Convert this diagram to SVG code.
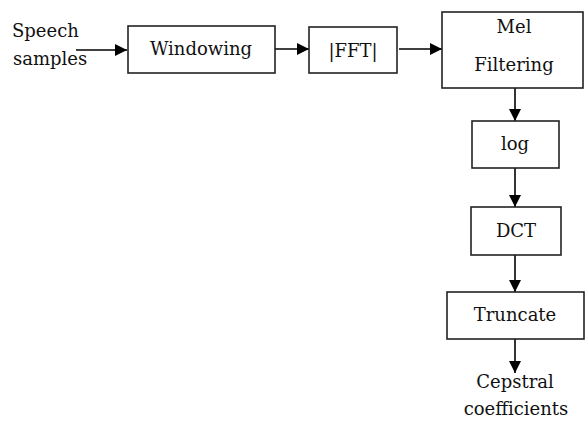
<svg xmlns="http://www.w3.org/2000/svg" width="585" height="421" viewBox="0 0 585 421">
<style>
.box{fill:#fff;stroke:#222;stroke-width:1.6}
.t{fill:#111}
.c{text-anchor:middle}
.ln{stroke:#000;stroke-width:1.6;fill:none}
</style>
<defs>
<marker id="ah" viewBox="0 0 12 12" refX="12" refY="6" markerWidth="12" markerHeight="12" markerUnits="userSpaceOnUse" orient="auto">
<path d="M0,0 L12,6 L0,12 Z" fill="#000"/>
</marker>
</defs>
<rect width="585" height="421" fill="#fff"/>
<g id="connectors">
<line class="ln" x1="76" y1="50" x2="127" y2="50" marker-end="url(#ah)"/>
<line class="ln" x1="275" y1="49" x2="309" y2="49" marker-end="url(#ah)"/>
<line class="ln" x1="399" y1="49" x2="442" y2="49" marker-end="url(#ah)"/>
<line class="ln" x1="515" y1="88" x2="515" y2="121" marker-end="url(#ah)"/>
<line class="ln" x1="515" y1="168" x2="515" y2="207" marker-end="url(#ah)"/>
<line class="ln" x1="515" y1="255" x2="515" y2="292" marker-end="url(#ah)"/>
<line class="ln" x1="515" y1="339" x2="515" y2="373" marker-end="url(#ah)"/>
</g>
<g font-family="DejaVu Serif, Liberation Serif, serif" font-size="18">
<g id="input">
<text class="t" x="12" y="37">Speech</text>
<text class="t" x="13" y="65">samples</text>
</g>
<g id="windowing">
<rect class="box" x="128" y="26" width="147" height="47"/>
<text class="t c" x="201" y="55">Windowing</text>
</g>
<g id="fft">
<rect class="box" x="309" y="27" width="88" height="46"/>
<text class="t c" x="353" y="57">|FFT|</text>
</g>
<g id="mel">
<rect class="box" x="442" y="12" width="141" height="76"/>
<text class="t c" x="514" y="33">Mel</text>
<text class="t c" x="514" y="71">Filtering</text>
</g>
<g id="log">
<rect class="box" x="472" y="121" width="87" height="47"/>
<text class="t c" x="515" y="150">log</text>
</g>
<g id="dct">
<rect class="box" x="471" y="207" width="90" height="48"/>
<text class="t c" x="516" y="237">DCT</text>
</g>
<g id="truncate">
<rect class="box" x="447" y="292" width="137" height="47"/>
<text class="t c" x="515" y="321">Truncate</text>
</g>
<g id="output">
<text class="t c" x="515" y="388">Cepstral</text>
<text class="t c" x="516" y="415">coefficients</text>
</g>
</g>
</svg>
